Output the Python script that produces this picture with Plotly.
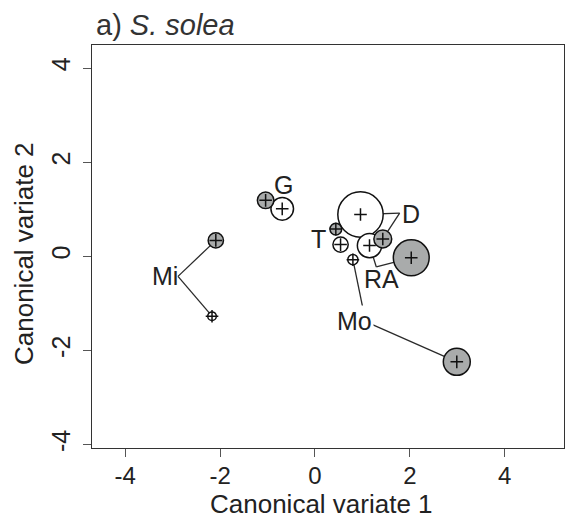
import plotly.graph_objects as go

# ---------------- data ----------------
groups = ["Mi", "G", "D", "T", "RA", "Mo"]

# grey circles (first state)
grey_x = [-2.09, -1.04, 1.43, 0.44, 2.03, 2.99]
grey_y = [0.34, 1.19, 0.37, 0.58, -0.03, -2.24]
grey_r = [0.177, 0.19, 0.204, 0.14, 0.394, 0.30]      # radius, data units

# white circles (second state)
white_x = [-2.17, -0.69, 0.96, 0.54, 1.15, 0.80]
white_y = [-1.27, 1.01, 0.89, 0.25, 0.23, -0.07]
white_r = [0.106, 0.254, 0.494, 0.177, 0.272, 0.124]  # radius, data units

# label positions and leader-line anchors (None = no leader lines)
label_x = [-3.17, -0.66, 2.03, 0.08, 1.395, 0.826]
label_y = [-0.42, 1.51, 0.91, 0.36, -0.48, -1.365]
anchor_x = [-2.887, None, 1.785, None, 1.294, 1.068]
anchor_y = [-0.425, None, 0.921, None, -0.225, -1.386]

x_ticks = [-4, -2, 0, 2, 4]
y_ticks = [-4, -2, 0, 2, 4]
x_range = [-4.70, 5.25]
y_range = [-4.07, 4.49]

title_plain = "a) "
title_italic = "S. solea"
x_title = "Canonical variate 1"
y_title = "Canonical variate 2"

# ---------------- layout geometry ----------------
W, H = 566, 530
ML, MR, MT, MB = 92, 2, 45, 82
plot_w = W - ML - MR
px_per_unit = plot_w / (x_range[1] - x_range[0])
FONT = "Liberation Sans, Arial, sans-serif"
TXT = "#222222"
EDGE = 1.5


def diam(r):
    return [2 * v * px_per_unit - EDGE for v in r]


fig = go.Figure()

# leader lines (drawn below the circles)
for i, g in enumerate(groups):
    if anchor_x[i] is None:
        continue
    for (px, py) in [(grey_x[i], grey_y[i]), (white_x[i], white_y[i])]:
        fig.add_shape(type="line", xref="x", yref="y",
                      x0=anchor_x[i], y0=anchor_y[i], x1=px, y1=py,
                      line=dict(color="#2a2a2a", width=1.3), layer="below")

# white circles
fig.add_trace(go.Scatter(
    x=white_x, y=white_y, mode="markers", showlegend=False,
    marker=dict(size=diam(white_r), color="white", opacity=1,
                line=dict(color="#111111", width=EDGE))))
# grey circles
fig.add_trace(go.Scatter(
    x=grey_x, y=grey_y, mode="markers", showlegend=False,
    marker=dict(size=diam(grey_r), color="#a9abab", opacity=1,
                line=dict(color="#111111", width=EDGE))))
# centre crosses
fig.add_trace(go.Scatter(
    x=white_x + grey_x, y=white_y + grey_y, mode="markers", showlegend=False,
    marker=dict(symbol="cross-thin-open", size=9, color="#111111", opacity=1,
                line=dict(color="#111111", width=1.5))))

# group labels
for i, g in enumerate(groups):
    fig.add_annotation(
        x=label_x[i], y=label_y[i], xref="x", yref="y", text=g,
        showarrow=False, font=dict(family=FONT, size=25, color=TXT),
        bgcolor="white" if g == "Mo" else None, borderpad=1)


def px2paper_x(px):
    return (px - ML) / plot_w


def py2paper_y(py):
    return (H - MB - py) / (H - MT - MB)


fig.add_annotation(
    x=px2paper_x(94), y=py2paper_y(25), xref="paper", yref="paper",
    xanchor="left", yanchor="middle", showarrow=False,
    text=title_plain + "<i>" + title_italic + "</i>",
    font=dict(family=FONT, size=29, color="#333333"))
fig.add_annotation(
    x=px2paper_x(321.5), y=py2paper_y(504), xref="paper", yref="paper",
    xanchor="center", yanchor="middle", showarrow=False, text=x_title,
    font=dict(family=FONT, size=26, color=TXT))
fig.add_annotation(
    x=px2paper_x(24), y=py2paper_y(254), xref="paper", yref="paper",
    xanchor="center", yanchor="middle", showarrow=False, text=y_title,
    textangle=-90, font=dict(family=FONT, size=26, color=TXT))

axis_common = dict(
    showgrid=False, zeroline=False, showline=True, mirror=True,
    linecolor="#333333", linewidth=1.3, ticks="outside", ticklen=8,
    tickwidth=1.2, tickcolor="#555555")

fig.update_layout(
    width=W, height=H, margin=dict(l=ML, r=MR, t=MT, b=MB),
    plot_bgcolor="white", paper_bgcolor="white",
    xaxis=dict(range=x_range, tickvals=x_ticks,
               ticktext=[str(v) for v in x_ticks],
               tickfont=dict(family=FONT, size=24, color=TXT),
               ticklabelstandoff=-2, **axis_common),
    yaxis=dict(range=y_range, tickvals=y_ticks, tickangle=-90,
               ticktext=[str(v) for v in y_ticks],
               tickfont=dict(family=FONT, size=25, color=TXT),
               ticklabelstandoff=3, **axis_common),
)

fig.write_html("out.html")
